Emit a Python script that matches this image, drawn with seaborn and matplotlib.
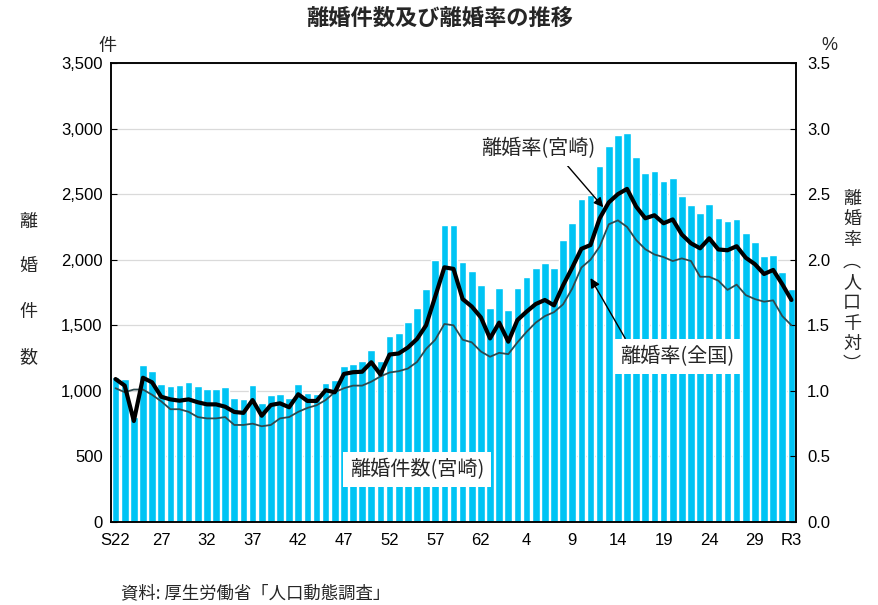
import matplotlib
matplotlib.use("Agg")
import matplotlib.pyplot as plt
from matplotlib import font_manager
import numpy as np
import pandas as pd
import seaborn as sns

# ---------------- data ----------------
years = list(range(1947, 2022))
tick_pos = [0, 5, 10, 15, 20, 25, 30, 35, 40, 45, 50, 55, 60, 65, 70, 74]
tick_labels = ["S22", "27", "32", "37", "42", "47", "52", "57", "62",
               "4", "9", "14", "19", "24", "29", "R3"]

divorces_miyazaki = [
    1103, 1090, 800, 1197, 1154, 1052, 1039, 1045, 1068, 1039,
    1017, 1017, 1030, 948, 939, 1047, 910, 970, 977, 947,
    1054, 985, 977, 1060, 1082, 1190, 1205, 1228, 1312, 1228,
    1418, 1441, 1525, 1632, 1777, 1998, 2265, 2265, 1984, 1915,
    1808, 1632, 1784, 1617, 1784, 1868, 1937, 1975, 1937, 2150,
    2278, 2463, 2496, 2714, 2867, 2951, 2964, 2783, 2661, 2676,
    2600, 2624, 2486, 2417, 2356, 2425, 2318, 2295, 2310, 2204,
    2135, 2028, 2036, 1906, 1777]

rate_miyazaki = [
    1.09, 1.04, 0.77, 1.10, 1.065, 0.955, 0.935, 0.925, 0.935, 0.913,
    0.897, 0.897, 0.879, 0.839, 0.832, 0.93, 0.81, 0.892, 0.905, 0.875,
    0.974, 0.923, 0.923, 1.005, 0.989, 1.129, 1.142, 1.146, 1.218, 1.125,
    1.277, 1.285, 1.33, 1.395, 1.50, 1.72, 1.942, 1.93, 1.70, 1.643,
    1.56, 1.40, 1.52, 1.375, 1.54, 1.604, 1.662, 1.693, 1.652, 1.805,
    1.94, 2.083, 2.112, 2.315, 2.437, 2.50, 2.54, 2.405, 2.316, 2.339,
    2.278, 2.307, 2.192, 2.125, 2.087, 2.163, 2.078, 2.072, 2.103, 2.015,
    1.966, 1.891, 1.922, 1.813, 1.693]

rate_national = [
    1.02, 0.99, 1.01, 1.01, 0.97, 0.92, 0.86, 0.86, 0.84, 0.80,
    0.79, 0.79, 0.80, 0.74, 0.74, 0.75, 0.73, 0.74, 0.79, 0.80,
    0.84, 0.87, 0.89, 0.93, 0.99, 1.02, 1.04, 1.04, 1.07, 1.11,
    1.14, 1.15, 1.17, 1.22, 1.32, 1.39, 1.51, 1.50, 1.39, 1.37,
    1.30, 1.26, 1.29, 1.28, 1.37, 1.45, 1.52, 1.57, 1.60, 1.66,
    1.78, 1.94, 2.00, 2.10, 2.27, 2.30, 2.25, 2.15, 2.08, 2.04,
    2.02, 1.99, 2.01, 1.99, 1.87, 1.87, 1.84, 1.77, 1.81, 1.73,
    1.70, 1.68, 1.69, 1.57, 1.50]

left_ticks = [0, 500, 1000, 1500, 2000, 2500, 3000, 3500]
right_ticks = [0.0, 0.5, 1.0, 1.5, 2.0, 2.5, 3.0, 3.5]

# ---------------- fonts ----------------
sns.set_theme(style="white")
available = {f.name for f in font_manager.fontManager.ttflist}
num_font = "Liberation Sans Narrow" if "Liberation Sans Narrow" in available else "Liberation Sans"
jp = ["Noto Sans CJK JP", "DejaVu Sans"]
plt.rcParams["font.family"] = jp

df = pd.DataFrame({"idx": np.arange(len(years)), "year": years,
                   "count": divorces_miyazaki,
                   "rate_m": rate_miyazaki, "rate_n": rate_national})

fig = plt.figure(figsize=(8.79, 6.05), dpi=100)
ax = fig.add_axes([111 / 879, 1 - 522 / 605, (796 - 111) / 879, (522 - 63) / 605])

sns.barplot(data=df, x="idx", y="count", ax=ax, color="#00C4F4",
            saturation=1, width=0.84, native_scale=True, zorder=2)
ax.set_xlim(-0.5, len(years) - 0.5)
ax.set_ylim(0, 3500)
ax.set_yticks(left_ticks)
ax.set_yticklabels([f"{v:,}" for v in left_ticks], fontfamily=num_font, fontsize=12)
ax.set_xticks(tick_pos)
ax.set_xticklabels(tick_labels, fontfamily=num_font, fontsize=12)
ax.set_xlabel("")
ax.set_ylabel("")
ax.grid(axis="y", color="#DADADA", lw=0.9, zorder=0)
ax.grid(axis="x", visible=False)
ax.set_axisbelow(True)
ax.tick_params(axis="both", direction="in", length=4, width=0.8, colors="black",
               pad=6)
ax.tick_params(axis="x", pad=8)
for s in ax.spines.values():
    s.set_color("black")
    s.set_linewidth(1.1)

ax2 = ax.twinx()
sns.lineplot(data=df, x="idx", y="rate_n", ax=ax2, color="#2E4A4F", lw=1.3, zorder=3)
sns.lineplot(data=df, x="idx", y="rate_m", ax=ax2, color="black", lw=3.0, zorder=4)
ax2.set_ylim(0, 3.5)
ax2.set_yticks(right_ticks)
ax2.set_yticklabels([f"{v:.1f}" for v in right_ticks], fontfamily=num_font, fontsize=12)
ax2.set_ylabel("")
ax2.set_xlabel("")
ax2.set_xlim(-0.5, len(years) - 0.5)
ax2.tick_params(axis="y", direction="in", length=4, width=0.8, colors="black", pad=8)
for s in ax2.spines.values():
    s.set_color("black")
    s.set_linewidth(1.1)

# ---------------- annotations ----------------
box = dict(boxstyle="square,pad=0.35", fc="white", ec="none")
ax2.annotate("", xy=(53.4, 2.40), xytext=(48.7, 2.78),
             arrowprops=dict(arrowstyle="-|>", color="black", lw=1.0,
                             mutation_scale=14, shrinkA=0, shrinkB=0), zorder=6)
ax2.annotate("", xy=(52.0, 1.86), xytext=(55.8, 1.40),
             arrowprops=dict(arrowstyle="-|>", color="black", lw=1.0,
                             mutation_scale=14, shrinkA=0, shrinkB=0), zorder=6)
ax2.text(46.3, 2.85, "離婚率(宮崎)", ha="center", va="center", fontsize=14.5,
         bbox=box, zorder=7)
ax2.text(61.5, 1.26, "離婚率(全国)", ha="center", va="center", fontsize=14.5,
         bbox=box, zorder=7)
ax2.text(33.0, 0.40, "離婚件数(宮崎)", ha="center", va="center", fontsize=14.5,
         bbox=box, zorder=7)

# ---------------- titles / labels ----------------
fig.text(440 / 879, 1 - 18 / 605, "離婚件数及び離婚率の推移", ha="center", va="center",
         fontsize=16, fontweight="bold")
fig.text(107 / 879, 1 - 46 / 605, "件", ha="center", va="center", fontsize=13)
fig.text(829 / 879, 1 - 46 / 605, "%", ha="center", va="center", fontsize=13,
         fontfamily=num_font)
for ch, py in zip("離婚件数", [222, 267, 312, 357]):
    fig.text(28 / 879, 1 - py / 605, ch, ha="center", va="center", fontsize=13)
fig.text(852 / 879, 1 - 282 / 605, "\n".join(["離", "婚", "率", "︵", "人", "口", "千", "対", "︶"]),
         ha="center", va="center", fontsize=13, linespacing=1.2)
fig.text(121 / 879, 1 - 593 / 605, "資料: 厚生労働省「人口動態調査」", ha="left",
         va="center", fontsize=12.5)

fig.savefig("out.png", dpi=100)
